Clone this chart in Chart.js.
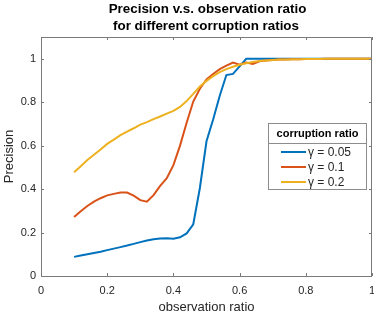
<!DOCTYPE html>
<html>
<head>
<meta charset="utf-8">
<script src="https://cdn.jsdelivr.net/npm/chart.js@4.4.0/dist/chart.umd.min.js"></script>
<style>
  html, body { margin: 0; padding: 0; background: #fff; }
  #wrap { width: 374px; height: 313px; }
</style>
</head>
<body>
<div id="wrap"><canvas id="chart"></canvas></div>
<script>
// --- data ---
const ratios = [0.10, 0.12, 0.14, 0.16, 0.18, 0.20, 0.22, 0.24, 0.26, 0.28,
                0.30, 0.32, 0.34, 0.36, 0.38, 0.40, 0.42, 0.44, 0.46, 0.48,
                0.50, 0.52, 0.54, 0.56, 0.58, 0.60, 0.62, 0.64, 0.66, 0.68,
                0.70, 0.72, 0.74, 0.76, 0.78, 0.80, 0.82, 0.84, 0.86, 0.88,
                0.90, 0.92, 0.94, 0.96, 0.98, 1.00];

const gamma005 = [0.088, 0.094, 0.100, 0.106, 0.112, 0.119, 0.126, 0.133, 0.140, 0.148,
                  0.156, 0.163, 0.169, 0.173, 0.174, 0.172, 0.178, 0.196, 0.238, 0.405,
                  0.620, 0.720, 0.830, 0.925, 0.930, 0.965, 1.000, 1.000, 1.000, 1.000,
                  1.000, 1.000, 1.000, 1.000, 1.000, 1.000, 1.000, 1.000, 1.000, 1.000,
                  1.000, 1.000, 1.000, 1.000, 1.000, 1.000];

const gamma01 = [0.271, 0.298, 0.322, 0.342, 0.358, 0.371, 0.378, 0.384, 0.384, 0.370,
                 0.349, 0.342, 0.372, 0.415, 0.450, 0.510, 0.600, 0.705, 0.803, 0.862,
                 0.905, 0.930, 0.952, 0.968, 0.982, 0.972, 0.982, 0.976, 0.988, 0.992,
                 0.994, 0.996, 0.997, 0.998, 0.998, 0.999, 0.999, 0.999, 1.000, 1.000,
                 1.000, 1.000, 1.000, 1.000, 1.000, 1.000];

const gamma02 = [0.477, 0.505, 0.534, 0.558, 0.582, 0.608, 0.628, 0.648, 0.664, 0.680,
                 0.697, 0.708, 0.722, 0.734, 0.747, 0.760, 0.778, 0.805, 0.838, 0.872,
                 0.898, 0.920, 0.938, 0.952, 0.963, 0.972, 0.979, 0.985, 0.989, 0.992,
                 0.994, 0.996, 0.997, 0.998, 0.998, 0.999, 0.999, 0.999, 1.000, 1.000,
                 1.000, 1.000, 1.000, 1.000, 1.000, 1.000];

const seriesLabels = ["\u03b3 = 0.05", "\u03b3 = 0.1", "\u03b3 = 0.2"];
const xTicks = [0, 0.2, 0.4, 0.6, 0.8, 1];
const yTicks = [0, 0.2, 0.4, 0.6, 0.8, 1];
const titleLines = ["Precision v.s. observation ratio", "for different corruption ratios"];
const legendTitle = "corruption ratio";

const FONT = '"Liberation Sans", Arial, Helvetica, sans-serif';
const INK = "#262626";
const colors = ["#0072BD", "#D95319", "#EDB120"];

function toPoints(vals) {
  return vals.map((v, i) => ({ x: ratios[i], y: v }));
}

// plain tick text: 0, 0.2, ..., 1
const tickText = (v) => String(Number(v.toFixed(1)));

// --- two-line title centred over the plot area (not the canvas) ---
const plotTitle = {
  id: "plotTitle",
  afterDraw(chart) {
    const { ctx, chartArea: a } = chart;
    const cx = (a.left + a.right) / 2 + 1;
    ctx.save();
    ctx.fillStyle = "#000";
    ctx.font = "bold 13.4px " + FONT;
    ctx.textAlign = "center";
    ctx.textBaseline = "alphabetic";
    ctx.fillText(titleLines[0], cx, 12.5);
    ctx.fillText(titleLines[1], cx - 1.5, 29.8);
    ctx.restore();
  }
};

// --- axes box with inward ticks (MATLAB style) ---
const axesBox = {
  id: "axesBox",
  afterDatasetsDraw(chart) {
    const { ctx, chartArea: a, scales } = chart;
    ctx.save();
    ctx.strokeStyle = "#7a7a7a";
    ctx.lineWidth = 1;
    ctx.beginPath();
    ctx.rect(Math.round(a.left) + 0.5, Math.round(a.top) + 0.5,
             Math.round(a.right - a.left) - 1, Math.round(a.bottom - a.top));
    const tl = 3;
    xTicks.forEach((v) => {
      const px = Math.round(scales.x.getPixelForValue(v)) + 0.5;
      ctx.moveTo(px, a.bottom); ctx.lineTo(px, a.bottom - tl);
      ctx.moveTo(px, a.top); ctx.lineTo(px, a.top + tl);
    });
    yTicks.forEach((v) => {
      const py = Math.round(scales.y.getPixelForValue(v)) + 0.5;
      ctx.moveTo(a.left, py); ctx.lineTo(a.left + tl, py);
      ctx.moveTo(a.right, py); ctx.lineTo(a.right - tl, py);
    });
    ctx.stroke();
    ctx.restore();
  }
};

// --- boxed legend with a title row ---
const legendBox = {
  id: "legendBox",
  afterDraw(chart) {
    const ctx = chart.ctx;
    const x0 = 268, y0 = 123, w = 98, h = 66;
    ctx.save();
    ctx.fillStyle = "#fff";
    ctx.fillRect(x0, y0, w, h);
    ctx.strokeStyle = "#8c8c8c";
    ctx.lineWidth = 1;
    ctx.strokeRect(x0 + 0.5, y0 + 0.5, w, h);
    ctx.beginPath();
    ctx.moveTo(x0, y0 + 20.5);
    ctx.lineTo(x0 + w, y0 + 20.5);
    ctx.stroke();

    ctx.fillStyle = "#000";
    ctx.font = "bold 11px " + FONT;
    ctx.textAlign = "center";
    ctx.textBaseline = "middle";
    ctx.fillText(legendTitle, x0 + w / 2 + 0.5, y0 + 11);

    ctx.font = "12px " + FONT;
    ctx.textAlign = "left";
    chart.data.datasets.forEach((ds, i) => {
      const y = y0 + 29 + i * 15;
      ctx.strokeStyle = ds.borderColor;
      ctx.lineWidth = 2;
      ctx.beginPath();
      ctx.moveTo(x0 + 13, y);
      ctx.lineTo(x0 + 38, y);
      ctx.stroke();
      ctx.fillStyle = INK;
      ctx.fillText(ds.label, x0 + 40, y + 0.5);
    });
    ctx.restore();
  }
};

const ctx = document.getElementById("chart").getContext("2d");
new Chart(ctx, {
  type: "line",
  data: {
    datasets: [
      { label: seriesLabels[0], data: toPoints(gamma005), borderColor: colors[0], order: 2 },
      { label: seriesLabels[1], data: toPoints(gamma01), borderColor: colors[1], order: 1 },
      { label: seriesLabels[2], data: toPoints(gamma02), borderColor: colors[2], order: 0 },
    ],
  },
  options: {
    responsive: true,
    maintainAspectRatio: false,
    animation: false,
    elements: {
      line: { borderWidth: 2, tension: 0, fill: false },
      point: { radius: 0, hoverRadius: 0 },
    },
    layout: { padding: { left: 0, right: 2, top: 37, bottom: 0 } },
    scales: {
      x: {
        type: "linear",
        min: 0,
        max: 1,
        afterBuildTicks: (s) => { s.ticks = xTicks.map((v) => ({ value: v })); },
        afterFit: (s) => { s.height = 37; s.paddingLeft = 0; s.paddingRight = 0; },
        grid: { display: false, drawTicks: false },
        border: { display: false },
        ticks: { color: INK, font: { family: FONT, size: 11 }, padding: 8, maxRotation: 0, callback: tickText },
        title: {
          display: true,
          text: "observation ratio",
          color: INK,
          font: { family: FONT, size: 13 },
          padding: { top: 0, bottom: -2 },
        },
      },
      y: {
        type: "linear",
        min: 0,
        max: 1.1,
        afterBuildTicks: (s) => { s.ticks = yTicks.map((v) => ({ value: v })); },
        afterFit: (s) => { s.width = 41; s.paddingTop = 0; s.paddingBottom = 0; },
        grid: { display: false, drawTicks: false },
        border: { display: false },
        ticks: { color: INK, font: { family: FONT, size: 11 }, padding: 5, callback: tickText },
        title: {
          display: true,
          text: "Precision",
          color: INK,
          font: { family: FONT, size: 13 },
          padding: { top: 2, bottom: 0 },
        },
      },
    },
    plugins: {
      legend: { display: false },
      tooltip: { enabled: false },
      title: { display: false },
    },
  },
  plugins: [axesBox, legendBox, plotTitle],
});
</script>
</body>
</html>
